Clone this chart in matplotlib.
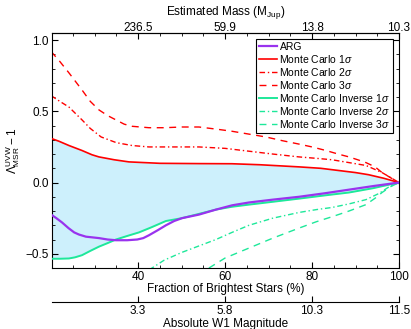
import numpy as np
import matplotlib
matplotlib.use("Agg")
import matplotlib.pyplot as plt
from matplotlib.transforms import Bbox

plt.rcParams['font.family'] = ['Liberation Sans', 'DejaVu Sans']
plt.rcParams['mathtext.fontset'] = 'custom'
plt.rcParams['mathtext.rm'] = 'Liberation Sans'
plt.rcParams['mathtext.it'] = 'Liberation Sans:italic'
plt.rcParams['font.size'] = 8.5

# data
mc1_x = [20, 21.8, 24.1, 27.1, 29.4, 31, 34.5, 37.9, 45, 54, 61.6, 68, 77, 82, 86, 90, 93, 96.5, 100]
mc1_y = [0.31, 0.29, 0.26, 0.225, 0.195, 0.18, 0.16, 0.145, 0.135, 0.133, 0.132, 0.125, 0.11, 0.1,
         0.085, 0.07, 0.055, 0.03, 0.0]

mc2_x = [20, 22, 24.1, 27.1, 29, 31.5, 35, 38.6, 42.5, 50, 54, 60, 65.5, 71, 77, 81, 84.6, 88.5,
         92.4, 96.1, 100]
mc2_y = [0.61, 0.57, 0.53, 0.44, 0.38, 0.32, 0.28, 0.26, 0.25, 0.25, 0.25, 0.24, 0.22, 0.2, 0.18,
         0.17, 0.16, 0.14, 0.12, 0.07, 0.0]

mc3_x = [20, 22, 24.1, 27.1, 29, 31, 33, 34.9, 36.8, 38.6, 42.5, 46, 50.1, 54, 58, 61.6, 65.5,
         69.4, 73, 77, 80, 83.2, 86, 88.5, 90.5, 92.4, 94.5, 96.1, 98, 100]
mc3_y = [0.92, 0.85, 0.77, 0.65, 0.57, 0.51, 0.47, 0.44, 0.41, 0.395, 0.385, 0.385, 0.39, 0.39,
         0.375, 0.36, 0.34, 0.32, 0.295, 0.27, 0.25, 0.225, 0.2, 0.18, 0.16, 0.14, 0.11, 0.07,
         0.035, 0.0]

arg_x = [20, 21.2, 22.5, 24, 25.3, 26.4, 28, 31, 33, 34.9, 37.5, 39.8, 41.2, 42.5, 44.5, 46.4,
         48.3, 50.1, 54, 57.9, 61.6, 65.5, 71, 77, 83, 88.5, 94, 100]
arg_y = [-0.225, -0.25, -0.28, -0.32, -0.35, -0.365, -0.38, -0.39, -0.40, -0.405, -0.405, -0.40,
         -0.39, -0.37, -0.335, -0.30, -0.27, -0.25, -0.225, -0.19, -0.16, -0.14, -0.12, -0.10,
         -0.075, -0.05, -0.025, 0.0]

inv1_x = [20, 22, 24.1, 25.5, 27.1, 29, 31, 33, 34.9, 37.5, 40.2, 43, 46.4, 50.1, 54, 57.9,
          61.6, 65.5, 71, 77, 83, 88.5, 94, 97.7, 100]
inv1_y = [-0.535, -0.535, -0.533, -0.525, -0.51, -0.48, -0.45, -0.425, -0.40, -0.375, -0.35,
          -0.315, -0.27, -0.25, -0.22, -0.19, -0.17, -0.155, -0.135, -0.113, -0.09, -0.07,
          -0.04, -0.015, 0.0]

inv2_x = [38, 41, 43.2, 46, 50.1, 54, 57.9, 61.6, 65.5, 71, 77, 81, 84.6, 88.5, 92.4, 95.5,
          97.7, 100]
inv2_y = [-0.72, -0.65, -0.60, -0.545, -0.49, -0.445, -0.40, -0.35, -0.30, -0.25, -0.21, -0.19,
          -0.175, -0.15, -0.12, -0.075, -0.03, 0.0]

inv3_x = [50, 53, 56.3, 60, 65.5, 71, 77, 81, 84.6, 88.5, 92.4, 94.5, 96.1, 98, 100]
inv3_y = [-0.78, -0.69, -0.60, -0.53, -0.46, -0.39, -0.32, -0.275, -0.24, -0.20, -0.155, -0.11,
          -0.07, -0.03, 0.0]

frac_ticks = [40, 60, 80, 100]
mass_labels = ['236.5', '59.9', '13.8', '10.3']
mag_labels = ['3.3', '5.8', '10.3', '11.5']

red = '#ff0000'
green = '#1ee89a'

fig = plt.figure(figsize=(4.11, 3.29), dpi=100)
ax = fig.add_axes([0.1265, 0.1854, 0.8443, 0.7143])

# shaded band between the 1-sigma curves
xf = np.linspace(20, 100, 400)
ax.fill_between(xf, np.interp(xf, mc1_x, mc1_y), np.interp(xf, inv1_x, inv1_y),
                color='#cdf0fc', lw=0, zorder=1)

ax.plot(arg_x, arg_y, color='#9933ee', lw=1.6, label='ARG', zorder=4)
ax.plot(mc1_x, mc1_y, color=red, lw=1.2, label=r'Monte Carlo 1$\sigma$', zorder=3)
ax.plot(mc2_x, mc2_y, color=red, lw=1.0, ls=(0, (4, 2, 1, 2)), label=r'Monte Carlo 2$\sigma$')
ax.plot(mc3_x, mc3_y, color=red, lw=1.0, ls=(0, (5, 4)), label=r'Monte Carlo 3$\sigma$')
ax.plot(inv1_x, inv1_y, color=green, lw=1.4, label=r'Monte Carlo Inverse 1$\sigma$', zorder=3)
ax.plot(inv2_x, inv2_y, color=green, lw=1.0, ls=(0, (4, 2, 1, 2)),
        label=r'Monte Carlo Inverse 2$\sigma$')
ax.plot(inv3_x, inv3_y, color=green, lw=1.0, ls=(0, (5, 4)),
        label=r'Monte Carlo Inverse 3$\sigma$')

ax.set_xlim(20.2, 100)
ax.set_ylim(-0.6, 1.05)
ax.set_xticks(frac_ticks)
ax.set_xticks(np.arange(25, 100, 5), minor=True)
ax.set_yticks([-0.5, 0.0, 0.5, 1.0])
ax.set_yticks(np.arange(-0.6, 1.05, 0.1), minor=True)
ax.tick_params(which='both', direction='in', top=False, right=True)
ax.tick_params(which='major', length=4, pad=2.5)
ax.tick_params(which='minor', length=2)
ax.set_xlabel('Fraction of Brightest Stars (%)', labelpad=0)
ax.set_ylabel(r'$\Lambda^{\rm UVW}_{\rm MSR} - 1$', labelpad=2)

top = ax.secondary_xaxis('top')
top.set_xticks(frac_ticks, labels=mass_labels)
top.set_xticks(np.arange(25, 100, 5), minor=True)
top.tick_params(which='both', direction='in')
top.tick_params(which='major', length=4, pad=-1)
top.tick_params(which='minor', length=2)

bot = ax.secondary_xaxis(-0.145)
bot.set_xticks(frac_ticks, labels=mag_labels)
bot.tick_params(direction='in', length=4, pad=2)
bot.set_xlabel('Absolute W1 Magnitude', labelpad=1)

leg = ax.legend(loc='upper right', fontsize=7.5, handlelength=1.8, handletextpad=0.2,
                labelspacing=0.1, borderpad=0.25, borderaxespad=0.6, fancybox=False,
                framealpha=1, edgecolor='black')
leg.get_frame().set_linewidth(0.8)

# put the top axis title just above its tick labels
fig.canvas.draw()
r = fig.canvas.get_renderer()
tb = Bbox.union([t.get_window_extent(r) for t in top.get_xticklabels()])
fig.text(0.5 * (ax.get_position().x0 + ax.get_position().x1),
         (tb.y1 + 1.5) / fig.bbox.height, r'Estimated Mass (M$_{\rm Jup}$)',
         ha='center', va='bottom')

fig.savefig('out.png', dpi=100)
